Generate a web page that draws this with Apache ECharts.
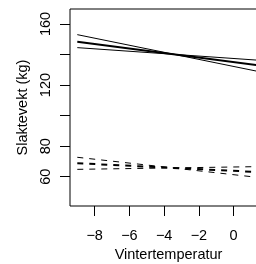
<!DOCTYPE html>
<html>
<head>
<meta charset="utf-8">
<script src="https://cdn.jsdelivr.net/npm/echarts@6/dist/echarts.min.js"></script>
<style>
  html, body { margin: 0; padding: 0; background: #fff; }
  #chart { width: 256px; height: 264px; }
</style>
</head>
<body>
<div id="chart"></div>
<script>
// endpoints of the fitted lines (x = vintertemperatur)
var temps = [-9, 1.5];
// solid lines (upper group)
var solidSteep = [153.0, 128.7];
var solidMid = [148.4, 132.8];
var solidFlat = [144.5, 136.2];
// dashed lines (lower group)
var dashSteep = [72.7, 59.4];
var dashMid = [68.8, 63.0];
var dashFlat = [64.8, 66.6];

var xTicks = [-8, -6, -4, -2, 0];
var yTicks = [60, 80, 100, 120, 140, 160];
var yLabels = [60, 80, 120, 160];

var font = 'Liberation Sans, Arial, sans-serif';

var toPairs = function (ys) {
  return temps.map(function (t, i) { return [t, ys[i]]; });
};

var lineSeries = function (ys, width, dashed) {
  return {
    type: 'line',
    data: toPairs(ys),
    symbol: 'none',
    silent: true,
    lineStyle: {
      color: '#000',
      width: width,
      type: dashed ? [6, 6] : 'solid'
    }
  };
};

var chart = echarts.init(document.getElementById('chart'));
chart.setOption({
  animation: false,
  grid: {
    left: 70, top: 9, right: -11, bottom: 58,
    outerBoundsMode: 'none',
    containLabel: false,
    show: true, borderColor: '#000', borderWidth: 1, backgroundColor: 'transparent'
  },
  xAxis: {
    type: 'value',
    min: -9.42, max: 1.92,
    name: 'Vintertemperatur',
    nameLocation: 'middle',
    nameGap: 40,
    nameTextStyle: { fontFamily: font, fontSize: 14.5, color: '#000' },
    splitLine: { show: false },
    axisLine: { show: false, onZero: false },
    axisTick: { show: true, inside: false, length: 10, customValues: xTicks, lineStyle: { color: '#000' } },
    axisLabel: {
      customValues: xTicks, margin: 22,
      fontFamily: font, fontSize: 14.5, color: '#000',
      formatter: function (v) { return String(v).replace('-', '\u2212'); }
    }
  },
  yAxis: {
    type: 'value',
    min: 40.8, max: 169.8,
    name: 'Slaktevekt (kg)',
    nameLocation: 'middle',
    nameGap: 36,
    nameRotate: 90,
    nameTextStyle: { fontFamily: font, fontSize: 14.5, color: '#000' },
    splitLine: { show: false },
    axisLine: { show: false, onZero: false },
    axisTick: { show: true, inside: false, length: 10, customValues: yTicks, lineStyle: { color: '#000' } },
    axisLabel: {
      customValues: yLabels, margin: 17, rotate: 90,
      fontFamily: font, fontSize: 14.5, color: '#000'
    }
  },
  series: [
    lineSeries(solidSteep, 1, false),
    lineSeries(solidMid, 2, false),
    lineSeries(solidFlat, 1, false),
    lineSeries(dashSteep, 1, true),
    lineSeries(dashMid, 2, true),
    lineSeries(dashFlat, 1, true)
  ]
});
</script>
</body>
</html>
